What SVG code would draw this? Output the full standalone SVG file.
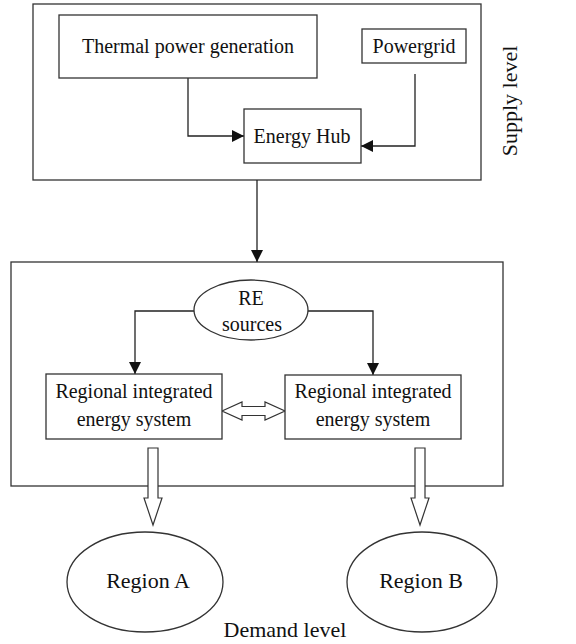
<svg xmlns="http://www.w3.org/2000/svg" width="576" height="644" viewBox="0 0 576 644">
  <style>
    .box { fill: #fff; stroke: #333; stroke-width: 1.3; }
    .frame { fill: none; stroke: #333; stroke-width: 1.3; }
    .line { fill: none; stroke: #222; stroke-width: 1.3; }
    .block { fill: #fff; stroke: #333; stroke-width: 1.2; }
    text { font-family: "Liberation Serif", "Times New Roman", serif; fill: #111; text-anchor: middle; }
    .t20 { font-size: 20px; }
    .t22 { font-size: 22px; }
  </style>
  <defs>
    <marker id="arrow" viewBox="0 0 12 12" refX="12" refY="6" markerWidth="12" markerHeight="12" markerUnits="userSpaceOnUse" orient="auto">
      <path d="M0,0 L12,6 L0,12 Z" fill="#111"/>
    </marker>
  </defs>

  <!-- level frames -->
  <g id="supply-level">
    <rect class="frame" x="33" y="4" width="448" height="176"/>
    <text class="t22" transform="translate(517,101) rotate(-90)">Supply level</text>
  </g>
  <g id="demand-frame">
    <rect class="frame" x="11" y="262" width="492" height="224"/>
  </g>

  <!-- connectors -->
  <g id="connectors">
    <path class="line" d="M188,78 V136 H244" marker-end="url(#arrow)"/>
    <path class="line" d="M415,74 V146 H361" marker-end="url(#arrow)"/>
    <path class="line" d="M257,180 V262" marker-end="url(#arrow)"/>
    <path class="line" d="M194,311 H135 V374" marker-end="url(#arrow)"/>
    <path class="line" d="M308,311 H373 V375" marker-end="url(#arrow)"/>
    <!-- exchange between the two regional systems -->
    <polygon class="block" points="222,411 242,402 242,406.5 265,406.5 265,402 285,411 265,420 265,415.5 242,415.5 242,420"/>
    <!-- supply to each region -->
    <polygon class="block" points="148,448 158,448 158,498 162,498 153,525 144,498 148,498"/>
    <polygon class="block" points="415,448 425,448 425,498 429,498 420,525 411,498 415,498"/>
  </g>

  <g id="thermal">
    <rect class="box" x="59" y="15" width="258" height="63"/>
    <text class="t20" x="188" y="53">Thermal power generation</text>
  </g>
  <g id="powergrid">
    <rect class="box" x="362" y="29" width="104" height="34"/>
    <text class="t20" x="414" y="53">Powergrid</text>
  </g>
  <g id="energy-hub">
    <rect class="box" x="244" y="109" width="117" height="54"/>
    <text class="t20" x="302" y="143">Energy Hub</text>
  </g>
  <g id="re-sources">
    <ellipse class="box" cx="251" cy="310" rx="57" ry="30"/>
    <text class="t20" x="251" y="305">RE</text>
    <text class="t20" x="252" y="331">sources</text>
  </g>
  <g id="ries-left">
    <rect class="box" x="46" y="374" width="176" height="65"/>
    <text class="t20" x="134" y="398">Regional integrated</text>
    <text class="t20" x="134" y="426">energy system</text>
  </g>
  <g id="ries-right">
    <rect class="box" x="285" y="375" width="176" height="64"/>
    <text class="t20" x="373" y="398">Regional integrated</text>
    <text class="t20" x="373" y="426">energy system</text>
  </g>
  <g id="region-a">
    <ellipse class="box" cx="145" cy="582" rx="78" ry="50"/>
    <text class="t22" x="148" y="588">Region A</text>
  </g>
  <g id="region-b">
    <ellipse class="box" cx="422" cy="582" rx="75" ry="50"/>
    <text class="t22" x="421" y="588">Region B</text>
  </g>
  <g id="demand-level">
    <text class="t22" x="285" y="637">Demand level</text>
  </g>
</svg>
